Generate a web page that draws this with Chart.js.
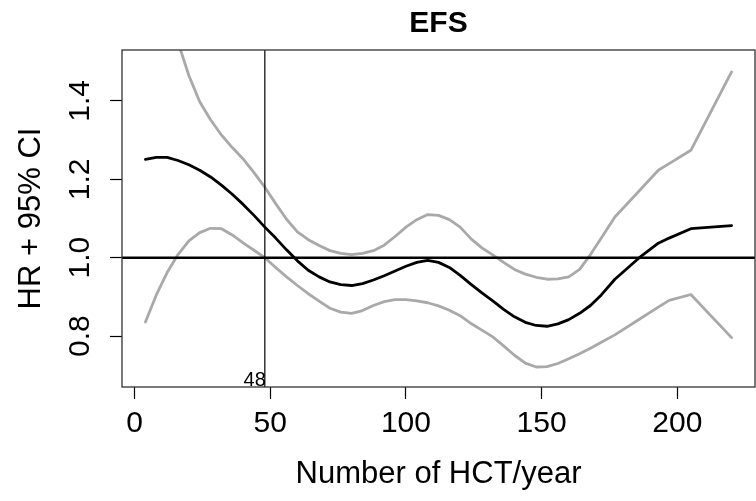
<!DOCTYPE html>
<html><head><meta charset="utf-8">
<script src="https://cdn.jsdelivr.net/npm/chart.js@4.4.0/dist/chart.umd.min.js"></script>
<style>html,body{margin:0;padding:0;background:#fff}#wrap{width:756px;height:501px}</style>
</head><body><div id="wrap"><canvas id="c" width="756" height="501"></canvas></div>
<script>
// ---- data ----
const hctPerYear = [4,8,12,16,20,24,28,32,36,40,44,48,52,56,60,64,68,72,76,80,84,88,92,96,100,104,108,112,116,120,124,128,132,136,140,144,148,152,156,160,164,168,172,177,186,193,197,205,220];
const hrEstimate = [1.251,1.256,1.256,1.248,1.237,1.223,1.206,1.185,1.162,1.136,1.108,1.078,1.050,1.020,0.992,0.968,0.951,0.938,0.931,0.929,0.934,0.943,0.954,0.966,0.978,0.988,0.993,0.988,0.975,0.955,0.932,0.910,0.890,0.868,0.849,0.835,0.827,0.825,0.831,0.842,0.858,0.878,0.905,0.945,1.000,1.037,1.050,1.074,1.082];
const ciUpper = [1.86,1.75,1.645,1.55,1.465,1.398,1.352,1.313,1.281,1.252,1.217,1.180,1.138,1.098,1.066,1.046,1.031,1.018,1.011,1.008,1.011,1.018,1.032,1.054,1.078,1.097,1.110,1.108,1.097,1.078,1.048,1.025,1.007,0.988,0.970,0.958,0.950,0.945,0.946,0.951,0.970,1.008,1.050,1.104,1.171,1.223,1.240,1.274,1.474];
const ciLower = [0.836,0.905,0.962,1.008,1.043,1.064,1.075,1.074,1.058,1.038,1.019,1.000,0.975,0.951,0.929,0.908,0.889,0.871,0.861,0.858,0.865,0.878,0.888,0.893,0.893,0.890,0.885,0.877,0.866,0.852,0.832,0.815,0.798,0.775,0.751,0.731,0.721,0.722,0.730,0.742,0.755,0.769,0.784,0.803,0.843,0.874,0.891,0.906,0.796];
const xTickValues = [0,50,100,150,200];
const yTickValues = [0.8,1.0,1.2,1.4];
const xRange = [-4.64,228.64];
const yRange = [0.67,1.53];
const referenceHR = 1;
const cutoffHCT = 48;
const titleText = 'EFS';
const xTitle = 'Number of HCT/year';
const yTitle = 'HR + 95% CI';

const FONT = "'Liberation Sans', Arial, Helvetica, sans-serif";
const GRAY = '#a9a9a9';
const pts = ys => hctPerYear.map((x,i)=>({x:x,y:ys[i]}));

const boxPlugin = {
  id:'box',
  afterDatasetsDraw(chart){
    const {ctx, chartArea:a, scales:{x}} = chart;
    ctx.save();
    ctx.strokeStyle = '#333';
    ctx.lineWidth = 1.3;
    ctx.strokeRect(a.left, a.top, a.right-a.left, a.bottom-a.top);
    ctx.fillStyle = '#000';
    ctx.font = '20px ' + FONT;
    ctx.textAlign = 'right';
    ctx.textBaseline = 'alphabetic';
    ctx.fillText(String(cutoffHCT), x.getPixelForValue(cutoffHCT)+1, a.bottom-1);
    ctx.restore();
  }
};

new Chart(document.getElementById('c'), {
  type:'line',
  data:{datasets:[
    {data:[{x:xRange[0],y:referenceHR},{x:xRange[1],y:referenceHR}], borderColor:'#000', borderWidth:2.5, pointRadius:0, clip:0},
    {data:[{x:cutoffHCT,y:yRange[0]},{x:cutoffHCT,y:yRange[1]}], borderColor:'#000', borderWidth:1.2, pointRadius:0, clip:0},
    {data:pts(hrEstimate), borderColor:'#000', borderWidth:2.8, pointRadius:0, clip:0},
    {data:pts(ciUpper), borderColor:GRAY, borderWidth:2.8, pointRadius:0, clip:0},
    {data:pts(ciLower), borderColor:GRAY, borderWidth:2.8, pointRadius:0, clip:0}
  ]},
  options:{
    responsive:false, animation:false, devicePixelRatio:1,
    layout:{padding:{left:0,right:1,top:0,bottom:0}},
    elements:{line:{tension:0, borderCapStyle:'round', borderJoinStyle:'round'}},
    plugins:{
      legend:{display:false}, tooltip:{enabled:false},
      title:{display:true, text:titleText, fullSize:false, color:'#000',
        font:{family:FONT, size:30, weight:'bold', lineHeight:1.2}, padding:{top:6,bottom:8}}
    },
    scales:{
      x:{type:'linear', min:xRange[0], max:xRange[1],
        afterBuildTicks(s){ s.ticks = xTickValues.map(v=>({value:v})); },
        afterFit(s){ s.height = 114; },
        grid:{drawOnChartArea:false, drawTicks:true, tickLength:12, tickColor:'#000', tickWidth:1.2},
        border:{display:false},
        ticks:{color:'#000', font:{family:FONT, size:30}, padding:7, maxRotation:0, autoSkip:false, callback:v=>String(v)},
        title:{display:true, text:xTitle, color:'#000', font:{family:FONT, size:31, lineHeight:1.2}, padding:{top:0,bottom:8}}
      },
      y:{type:'linear', min:yRange[0], max:yRange[1],
        afterBuildTicks(s){ s.ticks = yTickValues.map(v=>({value:v})); },
        afterFit(s){ s.width = 122; },
        grid:{drawOnChartArea:false, drawTicks:true, tickLength:12, tickColor:'#000', tickWidth:1.2},
        border:{display:false},
        ticks:{color:'#000', font:{family:FONT, size:30}, padding:8, minRotation:90, maxRotation:90, crossAlign:'center', autoSkip:false, callback:v=>v.toFixed(1)},
        title:{display:true, text:yTitle, color:'#000', font:{family:FONT, size:31, lineHeight:1.2}, padding:{top:13,bottom:0}}
      }
    }
  },
  plugins:[boxPlugin]
});
</script></body></html>
